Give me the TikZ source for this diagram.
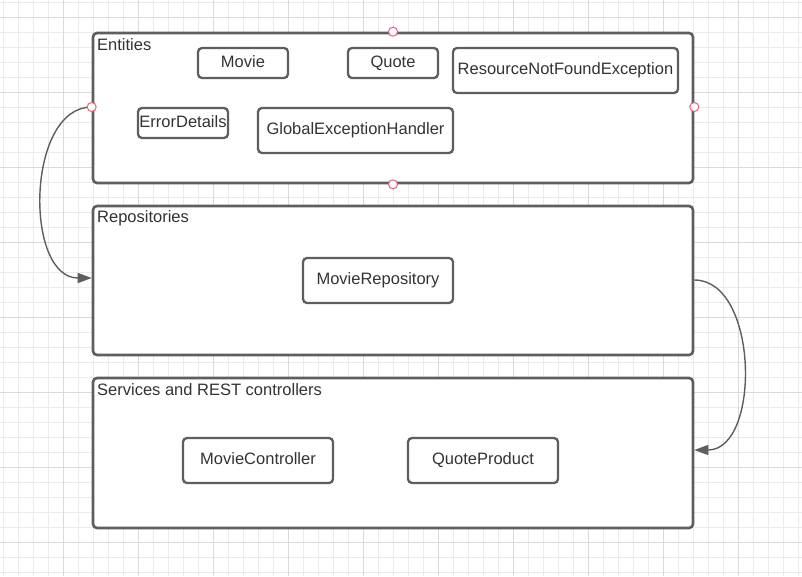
\documentclass[tikz,border=0pt]{standalone}
\usepackage{fontspec}
\setmainfont{Liberation Sans}
\usetikzlibrary{arrows.meta}
\definecolor{edge}{HTML}{5E5E5E}
\definecolor{txt}{HTML}{333333}
\definecolor{gridminor}{HTML}{EBEBEB}
\definecolor{gridmajor}{HTML}{DADADA}
\definecolor{handle}{HTML}{E8607A}
\tikzset{
  container/.style={draw=edge, line width=2.6pt, rounded corners=4pt, fill=white, inner sep=0pt},
  entity/.style={draw=edge, line width=2.3pt, rounded corners=4pt, fill=white, inner sep=0pt,
    text=txt, font=\fontsize{16.5}{18}\selectfont, text height=11.8pt, text depth=3.5pt},
  title/.style={anchor=north west, inner sep=0pt, text=txt, font=\fontsize{16.5}{18}\selectfont},
  link/.style={draw=edge, line width=1.4pt, -{Triangle[length=14pt,width=10pt]}},
  handlept/.style={circle, draw=handle, line width=1pt, fill=white, minimum size=9pt, inner sep=0pt}
}
\begin{document}
\begin{tikzpicture}[x=1pt,y=-1pt]
\useasboundingbox (0,0) rectangle (802,576);
\fill[white] (0,0) rectangle (802,576);
% grid
\foreach \x in {3,18,...,798} \draw[gridminor, line width=1pt] (\x,0) -- (\x,576);
\foreach \y in {2,17,...,572} \draw[gridminor, line width=1pt] (0,\y) -- (802,\y);
\foreach \x in {63,138,...,738} \draw[gridmajor, line width=1pt] (\x,0) -- (\x,576);
\foreach \y in {17,92,...,542} \draw[gridmajor, line width=1pt] (0,\y) -- (802,\y);

% containers
\node[container, minimum width=600pt, minimum height=150pt] (ent) at (393,108) {};
\node[container, minimum width=600pt, minimum height=149pt] (rep) at (393,280.5) {};
\node[container, minimum width=600pt, minimum height=150pt] (svc) at (393,453) {};
\node[title] (entT) at (97,38.5) {Entities};
\node[title] (repT) at (97,210.5) {Repositories};
\node[title] (svcT) at (97,383.5) {Services and REST controllers};

% entities
\node[entity, minimum width=90pt, minimum height=30pt] (movie) at (243,63) {Movie};
\node[entity, minimum width=90pt, minimum height=30pt] (quote) at (393,63) {Quote};
\node[entity, minimum width=225pt, minimum height=45pt] (rnfe) at (565.5,70.5) {ResourceNotFoundException};
\node[entity, minimum width=90pt, minimum height=30pt] (err) at (183,123) {ErrorDetails};
\node[entity, minimum width=195pt, minimum height=45pt] (geh) at (355.5,130.5) {GlobalExceptionHandler};
\node[entity, minimum width=150pt, minimum height=45pt] (mrepo) at (378,280.5) {MovieRepository};
\node[entity, minimum width=150pt, minimum height=45pt] (mctl) at (258,460.5) {MovieController};
\node[entity, minimum width=150pt, minimum height=45pt] (qprod) at (483,460.5) {QuoteProduct};

% connectors
\draw[link] (ent.west |- 0,107) .. controls (26,107) and (24,278) .. (rep.west |- 0,278);
\draw[link] (rep.east |- 0,280) .. controls (759,280) and (761,450) .. (svc.east |- 0,450);

% selection handles
\node[handlept] (h1) at (ent.north) {};
\node[handlept] (h2) at (ent.south) {};
\node[handlept] (h3) at (ent.west |- 0,107) {};
\node[handlept] (h4) at (ent.east |- 0,107) {};
\end{tikzpicture}
\end{document}
